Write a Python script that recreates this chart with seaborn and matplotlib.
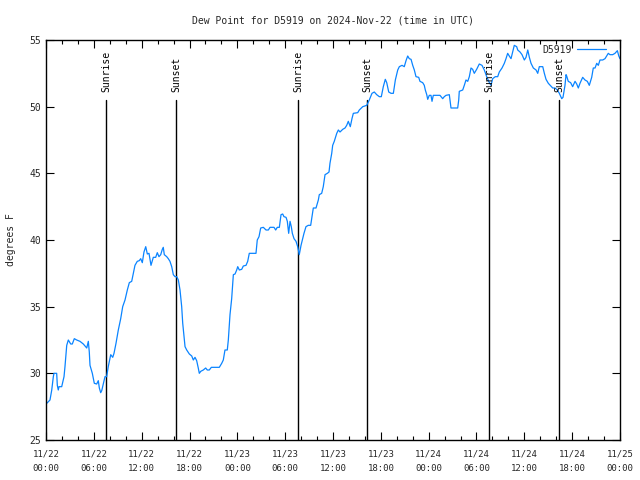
import matplotlib
matplotlib.use("Agg")
import matplotlib.pyplot as plt
import seaborn as sns
import pandas as pd
from matplotlib.ticker import MultipleLocator

# hours since 2024-11-22 00:00 UTC
hours = [0.09, 0.50, 0.72, 0.92, 1.00, 1.34, 1.42, 1.54, 1.63, 1.97, 2.26, 2.38, 2.51, 2.60, 2.80,
         3.10, 3.30, 3.55, 3.85, 4.26, 4.68, 5.11, 5.31, 5.43, 5.52, 5.81, 6.06, 6.36, 6.56, 6.69,
         6.86, 6.99, 7.19, 7.40, 7.61, 7.81, 8.12, 8.37, 8.53, 8.78, 9.07, 9.37, 9.62, 9.91, 10.20,
         10.45, 10.75, 10.95, 11.16, 11.45, 11.70, 11.88, 12.08, 12.29, 12.51, 12.71, 12.92, 13.17,
         13.46, 13.76, 13.96, 14.17, 14.39, 14.59, 14.71, 14.84, 15.14, 15.34, 15.55, 15.77, 15.97,
         16.18, 16.40, 16.60, 16.81, 17.02, 17.15, 17.31, 17.44, 17.65, 17.98, 18.28, 18.48, 18.69,
         18.90, 19.10, 19.23, 19.41, 19.73, 20.03, 20.23, 20.48, 20.74, 21.74, 22.04, 22.24, 22.45,
         22.74, 22.87, 23.08, 23.29, 23.50, 23.71, 23.92, 24.05, 24.25, 24.55, 24.75, 25.09, 25.30,
         25.50, 26.34, 26.50, 26.72, 26.93, 27.26, 27.60, 27.89, 28.10, 28.60, 28.81, 29.01, 29.27,
         29.48, 29.69, 29.85, 30.11, 30.27, 30.44, 30.61, 30.77, 30.90, 31.11, 31.36, 31.57, 31.77,
         31.99, 32.15, 32.36, 32.61, 32.90, 33.20, 33.40, 33.53, 33.87, 34.16, 34.28, 34.58, 34.78,
         35.00, 35.29, 35.50, 35.62, 35.84, 35.96, 36.16, 36.47, 36.67, 36.88, 37.22, 37.51, 37.72,
         37.92, 38.17, 38.38, 38.55, 39.10, 39.30, 39.73, 40.23, 40.55, 40.89, 41.18, 41.48, 41.81,
         42.06, 42.31, 42.56, 42.74, 42.99, 43.28, 43.57, 43.82, 44.12, 44.32, 44.66, 44.94, 45.16,
         45.37, 45.57, 45.79, 46.00, 46.20, 46.41, 46.75, 46.91, 47.25, 47.45, 47.58, 47.76, 47.88,
         48.08, 48.29, 48.42, 48.58, 49.13, 49.42, 49.76, 49.96, 50.18, 50.59, 50.80, 51.64, 51.77,
         51.84, 52.27, 52.47, 52.68, 52.90, 53.10, 53.31, 53.52, 53.72, 54.02, 54.35, 54.69, 54.98,
         55.28, 55.53, 55.82, 56.03, 56.36, 56.66, 56.86, 57.20, 57.49, 57.70, 57.91, 58.11, 58.33,
         58.74, 59.04, 59.17, 59.46, 59.71, 60.00, 60.21, 60.43, 60.63, 60.84, 61.13, 61.47, 61.68,
         61.88, 62.31, 62.51, 62.72, 63.01, 63.56, 63.85, 64.14, 64.39, 64.69, 64.85, 65.10, 65.23,
         65.31, 65.51, 65.81, 66.06, 66.36, 66.57, 66.77, 66.98, 67.32, 67.61, 67.90, 68.15, 68.45,
         68.65, 68.87, 69.08, 69.28, 69.49, 69.83, 70.12, 70.33, 70.53, 70.74, 71.08, 71.37, 71.67,
         71.85, 72.00]

dew_point = [27.75, 28.0, 28.75, 29.75, 30.0, 30.0, 29.1, 28.75, 29.0, 29.0, 29.75, 30.5, 31.5, 32.1, 32.5,
             32.2, 32.2, 32.6, 32.5, 32.4, 32.2, 31.9, 32.4, 31.6, 30.6, 30.0, 29.25, 29.2, 29.45, 28.9,
             28.55, 28.7, 29.2, 29.75, 29.75, 30.5, 31.4, 31.2, 31.5, 32.25, 33.25, 34.1, 35.0, 35.5, 36.25,
             36.8, 36.9, 37.5, 38.1, 38.4, 38.45, 38.6, 38.3, 39.1, 39.5, 38.95, 39.0, 38.1,
             38.7, 38.7, 39.05, 38.75, 38.9, 39.3, 39.45, 38.9, 38.75, 38.6, 38.4, 38.0, 37.4,
             37.25, 37.25, 37.0, 36.25, 35.0, 33.75, 32.75, 32.0, 31.75, 31.45, 31.3, 31.0, 31.2,
             30.95, 30.4, 30.0, 30.15, 30.25, 30.4, 30.25, 30.25, 30.45, 30.45, 30.75, 31.0, 31.75,
             31.75, 32.5, 34.4, 35.6, 37.4, 37.45, 37.75, 38.0, 37.75, 37.8, 38.05, 38.1, 38.4,
             39.0, 39.0, 40.0, 40.25, 40.9, 40.95, 40.75, 40.75, 40.95, 40.95, 40.75, 40.95, 40.95,
             41.9, 41.95, 41.75, 41.7, 41.4, 40.5, 41.4, 41.0, 40.5, 40.1, 39.9, 39.5, 38.9,
             39.6, 40.0, 40.5, 41.0, 41.1, 41.1, 41.9, 42.4, 42.4, 43.0, 43.4, 43.5, 44.0,
             44.9, 45.0, 45.1, 45.75, 46.5, 47.1, 47.4, 48.0, 48.25, 48.1, 48.3, 48.4, 48.6,
             48.9, 48.5, 49.1, 49.5, 49.55, 49.75, 50.0, 50.1, 50.5, 51.0, 51.1, 50.9, 50.75,
             50.75, 51.5, 52.05, 51.8, 51.1, 51.0, 51.0, 52.0, 52.75, 53.0, 53.1, 53.0, 53.45,
             53.8, 53.6, 53.55, 53.1, 52.75, 52.25, 52.2, 51.9, 51.8, 51.6, 51.25, 50.9, 50.55,
             50.85, 50.85, 50.4, 50.85, 50.85, 50.85, 50.6, 50.75, 50.85, 50.9, 49.9, 49.9, 50.5,
             51.15, 51.25, 51.6, 52.0, 51.9, 52.25, 52.9, 52.8, 52.5, 52.8, 53.2, 53.1, 52.75,
             52.25, 51.9, 51.6, 52.1, 52.25, 52.25, 52.6, 52.9, 53.25, 53.6, 54.0, 53.8, 53.6,
             54.6, 54.5, 54.25, 54.1, 53.9, 53.5, 53.7, 54.25, 53.7, 53.25, 52.9, 52.75, 52.5,
             53.0, 53.0, 52.5, 52.05, 51.75, 51.4, 51.4, 51.25, 51.0, 50.6, 50.7, 51.6, 52.4,
             52.3, 51.9, 51.8, 51.5, 51.9, 51.7, 51.4, 51.75, 52.2, 52.0, 51.9, 51.6, 52.2,
             52.9, 52.9, 53.25, 53.1, 53.5, 53.5, 53.6, 53.8, 54.0, 53.9, 53.9, 54.0, 54.2,
             53.8, 53.6]

event_hours = [7.57, 16.35, 31.65, 40.31, 55.61, 64.39]
event_names = ["Sunrise", "Sunset", "Sunrise", "Sunset", "Sunrise", "Sunset"]

tick_hours = [0, 6, 12, 18, 24, 30, 36, 42, 48, 54, 60, 66, 72]
tick_labels = ["11/22\n00:00", "11/22\n06:00", "11/22\n12:00", "11/22\n18:00",
               "11/23\n00:00", "11/23\n06:00", "11/23\n12:00", "11/23\n18:00",
               "11/24\n00:00", "11/24\n06:00", "11/24\n12:00", "11/24\n18:00",
               "11/25\n00:00"]

sns.set_style("ticks")
plt.rcParams['font.family'] = ['DejaVu Sans Mono', 'DejaVu Sans']

df = pd.DataFrame({"hours": hours, "dew": dew_point, "station": "D5919"})

fig = plt.figure(figsize=(6.4, 4.8), dpi=100)
ax = fig.add_axes([46/640, 1 - 440/480, (620 - 46)/640, 400/480])

sns.lineplot(data=df, x="hours", y="dew", hue="station", palette=["#0a84ff"],
             linewidth=0.9, ax=ax, estimator=None, sort=False)

for t, name in zip(event_hours, event_names):
    ax.plot([t, t], [25, 50.5], color="black", linewidth=1.0, zorder=1)
    ax.text(t, 51.1, name, rotation=90, ha="center", va="bottom", fontsize=7, color="black")

ax.set_xlim(0, 72)
ax.set_ylim(25, 55)
ax.set_xticks(tick_hours)
ax.set_xticklabels(tick_labels, fontsize=6.5, linespacing=1.75)
ax.xaxis.set_minor_locator(MultipleLocator(2))
ax.set_yticks([25, 30, 35, 40, 45, 50, 55])
ax.tick_params(axis="y", labelsize=7)
ax.tick_params(which="both", direction="in", top=True, right=True, color="black")
ax.tick_params(which="major", length=6, width=0.8)
ax.tick_params(which="minor", length=3, width=0.8)
ax.tick_params(axis="x", which="major", pad=7)
for s in ax.spines.values():
    s.set_color("black")
    s.set_linewidth(1.0)

ax.set_xlabel("")
ax.set_ylabel("degrees F", fontsize=7)
ax.yaxis.set_label_coords(-0.052, 0.5)
ax.set_title("Dew Point for D5919 on 2024-Nov-22 (time in UTC)", fontsize=7, pad=12)

leg = ax.legend(loc="upper right", bbox_to_anchor=(1 - 5/574, 1 + 4/400), frameon=False,
                fontsize=7, handlelength=3.0, markerfirst=False, borderaxespad=0.5,
                handletextpad=0.5)
for line in leg.get_lines():
    line.set_linewidth(0.9)

fig.savefig("out.png", dpi=100)
